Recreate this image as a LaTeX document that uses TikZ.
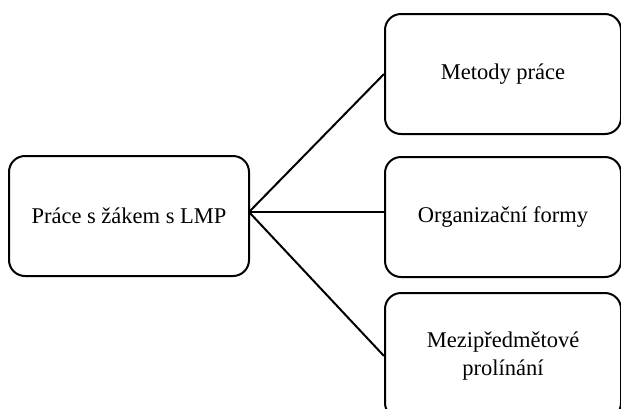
\documentclass[tikz,border=0pt]{standalone}
\usepackage{fontspec}
\setmainfont{Liberation Serif}
\begin{document}
\begin{tikzpicture}[x=1pt,y=-1pt,
  box/.style={draw=black, line width=2pt, rounded corners=16pt, align=center,
    font=\fontsize{22.5}{28}\selectfont, inner sep=0pt},
  conn/.style={draw=black, line width=2pt}]
\useasboundingbox (0,0) rectangle (621,408);
\node[box, minimum width=240pt, minimum height=120pt] (main) at (129,216) {Práce s žákem s LMP};
\node[box, minimum width=236pt, minimum height=120pt] (top) at (503,74) {Metody práce};
\node[box, minimum width=236pt, minimum height=120pt] (mid) at (503,217) {Organizační formy};
\node[box, minimum width=236pt, minimum height=126pt] (bot) at (503,356) {Mezipředmětové\\prolínání};
\coordinate (hub) at (249,212);
\draw[conn] (hub) -- (top.west);
\draw[conn] (hub) -- (hub -| mid.west);
\draw[conn] (hub) -- (bot.west);
\end{tikzpicture}
\end{document}
